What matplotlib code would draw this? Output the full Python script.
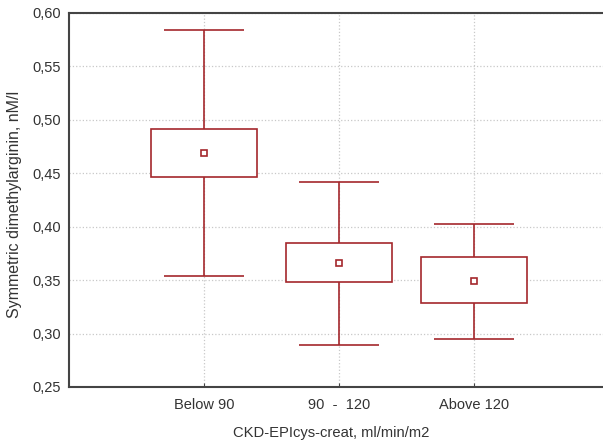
import numpy as np
import matplotlib.pyplot as plt

plt.rcParams['font.family'] = ['Liberation Sans', 'DejaVu Sans']

# Данные
categories = ['Below 90', '90  -  120', 'Above 120']
means = [0.469, 0.366, 0.349]
box_low = [0.4465, 0.348, 0.3286]
box_high = [0.4914, 0.385, 0.3717]
whisk_low = [0.354, 0.289, 0.295]
whisk_high = [0.584, 0.442, 0.403]
y_ticks = [0.25, 0.30, 0.35, 0.40, 0.45, 0.50, 0.55, 0.60]

red = '#A4282C'
grey = '#444444'

fig = plt.figure(figsize=(6.03, 4.43), dpi=100)
# ось уходит за правый край картинки, как в оригинале
ax = fig.add_axes([69 / 603, (443 - 387) / 443, 540 / 603, 374 / 443])

x = np.arange(1, len(categories) + 1)
box_w = 0.785
cap_w = 0.59

# Коробки
ax.bar(x, np.array(box_high) - np.array(box_low), bottom=box_low, width=box_w,
       facecolor='white', edgecolor=red, linewidth=1.2, zorder=3)
# Усы
ax.vlines(x, box_high, whisk_high, color=red, linewidth=1.2, zorder=3)
ax.vlines(x, whisk_low, box_low, color=red, linewidth=1.2, zorder=3)
ax.hlines(whisk_high, x - cap_w / 2, x + cap_w / 2, color=red, linewidth=1.2, zorder=3)
ax.hlines(whisk_low, x - cap_w / 2, x + cap_w / 2, color=red, linewidth=1.2, zorder=3)
# Средние
ax.plot(x, means, linestyle='none', marker='s', markersize=4.5,
        markerfacecolor='white', markeredgecolor=red, markeredgewidth=1.2, zorder=4)

ax.set_xlim(0, 4)
ax.set_ylim(0.25, 0.60)
ax.set_xticks(x)
ax.set_xticklabels(categories)
ax.set_yticks(y_ticks)
ax.set_yticklabels([f'{v:.2f}'.replace('.', ',') for v in y_ticks])

ax.grid(True, linestyle=':', color='#c8c8c8', linewidth=0.9, zorder=0)
ax.set_axisbelow(True)

for side in ['left', 'bottom', 'top']:
    ax.spines[side].set_color(grey)
    ax.spines[side].set_linewidth(1.5)
ax.spines['right'].set_visible(False)

ax.tick_params(axis='y', length=0, pad=6, labelsize=10.5, labelcolor='#333333')
ax.tick_params(axis='x', direction='in', length=3, color=grey, pad=8,
               labelsize=10.5, labelcolor='#333333')

ax.set_ylabel('Symmetric dimethylarginin, nM/l', fontsize=11.5, color='#333333')
ax.yaxis.set_label_coords(-0.087, 0.487)
ax.set_xlabel('CKD-EPIcys-creat, ml/min/m2', fontsize=10.6, color='#333333')
ax.xaxis.set_label_coords((331 - 69) / 540, -0.105)

fig.savefig('out.png', dpi=100)
